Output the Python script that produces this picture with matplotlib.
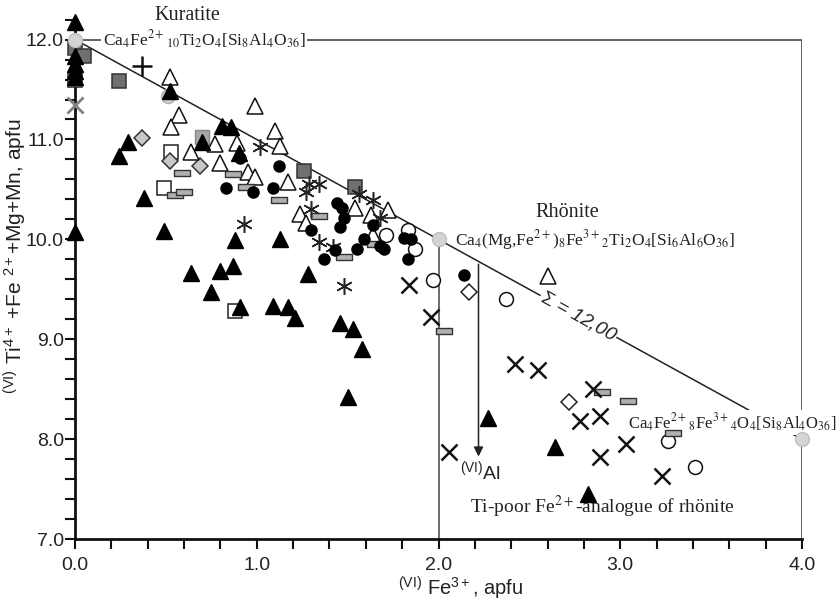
import numpy as np
import matplotlib
matplotlib.use("Agg")
import matplotlib.pyplot as plt
from matplotlib.path import Path

plt.rcParams['font.family'] = ['Liberation Sans', 'DejaVu Sans']
plt.rcParams['mathtext.fontset'] = 'custom'
plt.rcParams['mathtext.rm'] = 'Liberation Sans'
plt.rcParams['mathtext.it'] = 'Liberation Sans:italic'

# end members (Fe3+, Ti+Fe2+ +Mg+Mn)
end_x = [0.0, 2.0, 4.0]
end_y = [12.0, 10.0, 8.0]

# data series
tri_black_x = [0.0, 0.0, 0.0, 0.0, 0.0, 0.0, 0.52, 0.29, 0.24, 0.38, 0.49, 0.70, 0.81, 0.86, 0.90,
               0.88, 1.13, 0.64, 0.80, 0.87, 0.75, 1.28, 0.91, 1.09, 1.17, 1.21, 1.46, 1.53, 1.58,
               1.50, 2.27, 2.64, 2.82]
tri_black_y = [12.18, 11.84, 11.76, 11.69, 11.63, 10.07, 11.49, 10.97, 10.83, 10.41, 10.08, 10.97, 11.13,
               11.12, 10.86, 9.99, 10.0, 9.66, 9.68, 9.73, 9.47, 9.65, 9.32, 9.33, 9.32, 9.21, 9.16,
               9.10, 8.90, 8.42, 8.21, 7.92, 7.45]

tri_open_x = [0.52, 0.57, 0.53, 0.99, 1.10, 1.13, 0.64, 0.77, 0.80, 0.89, 0.95, 0.99, 1.17, 1.24,
              1.27, 1.54, 1.63, 1.72, 1.64, 2.60]
tri_open_y = [11.63, 11.24, 11.12, 11.34, 11.08, 10.93, 10.87, 10.95, 10.76, 10.96, 10.67, 10.62,
              10.57, 10.25, 10.16, 10.31, 10.24, 10.29, 10.04, 9.63]

circ_black_x = [0.91, 0.83, 0.98, 1.09, 1.12, 1.44, 1.47, 1.48, 1.46, 1.30, 1.59, 1.55, 1.43, 1.37,
                1.64, 1.68, 1.70, 1.81, 1.85, 1.83, 2.14]
circ_black_y = [10.81, 10.51, 10.47, 10.51, 10.73, 10.36, 10.31, 10.21, 10.12, 10.09, 10.0, 9.90,
                9.89, 9.80, 10.14, 9.93, 9.90, 10.01, 10.0, 9.80, 9.64]

circ_open_x = [1.83, 1.71, 1.87, 1.97, 2.37, 3.26, 3.41]
circ_open_y = [10.09, 10.04, 9.90, 9.59, 9.40, 7.98, 7.72]

circ_gray_x = [0.51]
circ_gray_y = [11.44]

sq_open_x = [0.0, 0.53, 0.49, 0.88]
sq_open_y = [11.60, 10.87, 10.51, 9.28]

sq_gray_x = [0.0, 0.05, 0.24, 1.26, 1.54]
sq_gray_y = [11.92, 11.84, 11.59, 10.68, 10.52]

sq_light_x = [0.70]
sq_light_y = [11.02]

dia_gray_x = [0.37, 0.52, 0.69]
dia_gray_y = [11.01, 10.78, 10.73]

dia_open_x = [2.17, 2.72]
dia_open_y = [9.47, 8.37]

bar_x = [0.59, 0.55, 0.60, 0.87, 0.94, 1.12, 1.34, 1.48, 1.65, 2.03, 2.90, 3.04, 3.29]
bar_y = [10.66, 10.44, 10.47, 10.65, 10.52, 10.39, 10.23, 9.82, 9.95, 9.08, 8.47, 8.38, 8.06]

star_x = [1.02, 0.93, 1.27, 1.29, 1.34, 1.30, 1.34, 1.42, 1.48, 1.56, 1.64, 1.68]
star_y = [10.92, 10.15, 10.47, 10.55, 10.55, 10.30, 9.97, 9.92, 9.53, 10.45, 10.39, 10.21]

cross_x = [1.84, 1.96, 2.06, 2.42, 2.55, 2.85, 2.78, 2.89, 2.89, 3.03, 3.23]
cross_y = [9.54, 9.22, 7.87, 8.75, 8.69, 8.50, 8.18, 8.23, 7.82, 7.95, 7.63]

cross_gray_x = [0.0]
cross_gray_y = [11.35]

plus_x = [0.37]
plus_y = [11.74]

fig = plt.figure(figsize=(8.4, 6.03), dpi=100)
ax = fig.add_axes([0.0893, 0.1056, 0.8655, 0.862])
ax.set_xlim(0, 4)
ax.set_ylim(7, 12.2)

# guide lines
ax.plot(end_x, end_y, color='#222222', lw=1.1, zorder=2)
ax.plot([end_x[0], end_x[2], end_x[2]], [end_y[0], end_y[0], 7], color='#555555', lw=1.3, zorder=2)
ax.plot([end_x[1], end_x[1]], [end_y[1], 7], color='#444444', lw=1.1, zorder=2)
ax.annotate('', xy=(2.22, 7.8), xytext=(2.22, 12 - 2.22),
            arrowprops=dict(arrowstyle='-|>', color='#222222', lw=1.1, mutation_scale=14), zorder=2)

bar_marker = Path([(-1, -0.42), (1, -0.42), (1, 0.42), (-1, 0.42), (-1, -0.42)],
                  [Path.MOVETO, Path.LINETO, Path.LINETO, Path.LINETO, Path.CLOSEPOLY])

kw = dict(linestyle='none', zorder=4, clip_on=False)
ax.plot(circ_gray_x, circ_gray_y, 'o', ms=10, mfc='#d0d0d0', mec='#b0b0b0', **kw)
ax.plot(sq_open_x, sq_open_y, 's', ms=10, mfc='white', mec='#222222', mew=1.1, **kw)
ax.plot(sq_gray_x, sq_gray_y, 's', ms=10, mfc='#707070', mec='#333333', mew=1.1, **kw)
ax.plot(sq_light_x, sq_light_y, 's', ms=10, mfc='#a8a8a8', mec='#888888', mew=1.0, **kw)
ax.plot(dia_gray_x, dia_gray_y, 'D', ms=8.5, mfc='#c8c8c8', mec='#333333', mew=1.1, **kw)
ax.plot(dia_open_x, dia_open_y, 'D', ms=8.5, mfc='white', mec='#222222', mew=1.1, **kw)
ax.plot(tri_open_x, tri_open_y, '^', ms=11, mfc='white', mec='#111111', mew=1.1, **kw)
ax.plot(circ_open_x, circ_open_y, 'o', ms=10, mfc='white', mec='#111111', mew=1.1, **kw)
ax.plot(bar_x, bar_y, marker=bar_marker, ms=11, mfc='#b0b0b0', mec='#333333', mew=1.0, **kw)
ax.plot(star_x, star_y, marker=(6, 2, 0), ms=12, mec='#222222', mew=1.1, **kw)
ax.plot(cross_x, cross_y, 'x', ms=11, mec='#111111', mew=1.8, **kw)
ax.plot(cross_gray_x, cross_gray_y, 'x', ms=11, mec='#808080', mew=2.0, **kw)
ax.plot(plus_x, plus_y, '+', ms=14, mec='#111111', mew=1.8, **kw)
ax.plot(circ_black_x, circ_black_y, 'o', ms=8, mfc='black', mec='black', **kw)
ax.plot(tri_black_x, tri_black_y, '^', ms=11, mfc='black', mec='black', **kw)
ax.plot(end_x, end_y, 'o', ms=10, mfc='#d4d4d4', mec='#c0c0c0', linestyle='none', zorder=5,
        clip_on=False)

# annotations
serif = dict(family=['Liberation Serif', 'DejaVu Serif'], color='#222222', math_fontfamily='stix')
ax.text(0.62, 12.24, 'Kuratite', ha='center', va='center', fontsize=14.5, **serif)
ax.text(0.71, 12.0, r'Ca$_4$Fe$^{2+}$$_{10}$Ti$_2$O$_4$[Si$_8$Al$_4$O$_{36}$]', ha='center',
        va='center', fontsize=12.5, bbox=dict(facecolor='white', edgecolor='none', pad=1), zorder=3,
        **serif)
ax.text(2.71, 10.27, 'Rhönite', ha='center', va='center', fontsize=14.5, **serif)
ax.text(2.09, 9.99, r'Ca$_4$(Mg,Fe$^{2+}$)$_8$Fe$^{3+}$$_2$Ti$_2$O$_4$[Si$_6$Al$_6$O$_{36}$]',
        ha='left', va='center', fontsize=12.5, **serif)
ax.text(3.04, 8.17, r'Ca$_4$Fe$^{2+}$$_8$Fe$^{3+}$$_4$O$_4$[Si$_8$Al$_4$O$_{36}$]', ha='left',
        va='center', fontsize=12, bbox=dict(facecolor='white', edgecolor='none', pad=1), zorder=3,
        **serif)
ax.text(2.90, 7.32, r'Ti-poor Fe$^{2+}$-analogue of rhönite', ha='center', va='center',
        fontsize=14, **serif)
ax.text(2.23, 7.68, r'$^{\mathrm{(VI)}}$Al', ha='center', va='center', fontsize=14, color='#222222')
ax.text(2.77, 9.23, r'$\Sigma$ = 12,00', ha='center', va='center', rotation=-29, fontsize=14,
        style='italic', color='#222222', rotation_mode='anchor',
        bbox=dict(facecolor='white', edgecolor='none', pad=0.5), zorder=3)

ax.set_xlabel(r'$^{\mathrm{(VI)}}$ Fe$^{3+}$, apfu', fontsize=14.5, color='#222222')
ax.xaxis.set_label_coords(0.53, -0.068)
ax.set_ylabel(r'$^{\mathrm{(VI)}}$ Ti$^{4+}$ +Fe $^{2+}$+Mg+Mn, apfu', fontsize=15, color='#222222')
ax.yaxis.set_label_coords(-0.063, 0.545)

ax.set_xticks(np.arange(0, 4.01, 1.0))
ax.set_xticks(np.arange(0, 4.01, 0.2), minor=True)
ax.set_yticks(np.arange(7, 12.01, 1.0))
ax.set_yticks(np.arange(7, 12.21, 0.2), minor=True)
ax.set_xticklabels(['0.0', '1.0', '2.0', '3.0', '4.0'])
ax.set_yticklabels(['7.0', '8.0', '9.0', '10.0', '11.0', '12.0'])
ax.tick_params(which='both', direction='out', length=7, width=1.5, color='#111111',
               labelsize=14, labelcolor='#222222')
ax.tick_params(axis='x', which='major', pad=6)
ax.tick_params(axis='y', which='major', pad=1)
for s in ['top', 'right']:
    ax.spines[s].set_visible(False)
for s in ['left', 'bottom']:
    ax.spines[s].set_linewidth(2)
    ax.spines[s].set_color('#111111')

fig.savefig('out.png', dpi=100)
